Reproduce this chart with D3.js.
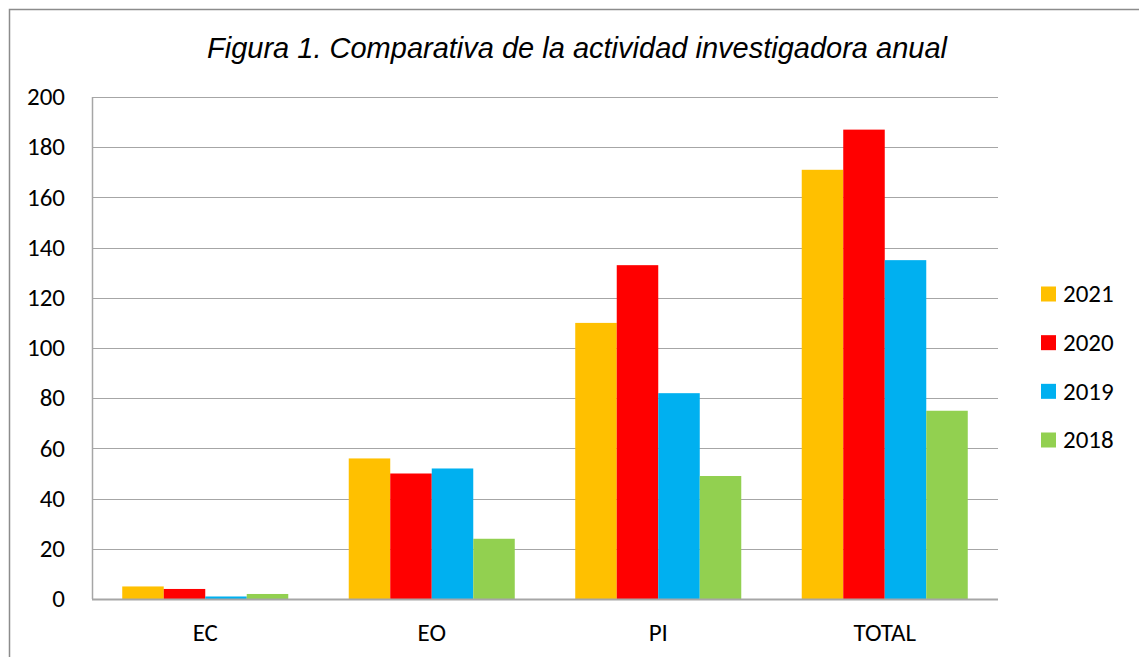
<!DOCTYPE html>
<html>
<head>
<meta charset="utf-8">
<script src="https://cdn.jsdelivr.net/npm/d3@7"></script>
<style>
  body { margin: 0; background: #fff; }
  .tick-label { font-family: Carlito, Lato, "Open Sans", sans-serif; font-size: 25px; fill: #000; }
  .title { font-family: "Liberation Sans", Arial, sans-serif; font-style: italic; font-size: 29px; fill: #000; }
</style>
</head>
<body>
<div id="wrapper"></div>
<script>
const categories = ["EC", "EO", "PI", "TOTAL"]
const years = ["2021", "2020", "2019", "2018"]
const values2021 = [5, 56, 110, 171]
const values2020 = [4, 50, 133, 187]
const values2019 = [1, 52, 82, 135]
const values2018 = [2, 24, 49, 75]
const yTicks = [0, 20, 40, 60, 80, 100, 120, 140, 160, 180, 200]
const colors = ["#FFC000", "#FF0000", "#00B0F0", "#92D050"]

const seriesValues = [values2021, values2020, values2019, values2018]

function drawChart() {
  const dimensions = {
    width: 1139,
    height: 657,
    margin: { top: 97, right: 141, bottom: 58, left: 92 },
  }
  dimensions.boundedWidth = dimensions.width - dimensions.margin.left - dimensions.margin.right
  dimensions.boundedHeight = dimensions.height - dimensions.margin.top - dimensions.margin.bottom

  const wrapper = d3.select("#wrapper")
    .append("svg")
      .attr("width", dimensions.width)
      .attr("height", dimensions.height)

  // outer frame
  wrapper.append("rect")
    .attr("x", 9.5)
    .attr("y", 9.5)
    .attr("width", 1300)
    .attr("height", 800)
    .attr("fill", "none")
    .attr("stroke", "#8c8c8c")
    .attr("stroke-width", 1.5)

  wrapper.append("text")
    .attr("class", "title")
    .attr("x", 577)
    .attr("y", 58)
    .attr("text-anchor", "middle")
    .text("Figura 1. Comparativa de la actividad investigadora anual")

  const bounds = wrapper.append("g")
    .attr("transform", `translate(${dimensions.margin.left}, ${dimensions.margin.top})`)

  const x0 = d3.scaleBand()
    .domain(categories)
    .range([0, dimensions.boundedWidth])
    .paddingInner(0.267)
    .paddingOuter(0.1335)

  const x1 = d3.scaleBand()
    .domain(years)
    .range([0, x0.bandwidth()])

  const y = d3.scaleLinear()
    .domain([0, 200])
    .range([dimensions.boundedHeight, 0])

  // gridlines
  bounds.append("g")
    .selectAll("line")
    .data(yTicks)
    .join("line")
      .attr("x1", 0)
      .attr("x2", dimensions.boundedWidth)
      .attr("y1", d => Math.round(y(d)) + 0.5)
      .attr("y2", d => Math.round(y(d)) + 0.5)
      .attr("stroke", "#a6a6a6")
      .attr("stroke-width", 1.2)

  // y labels
  bounds.append("g")
    .selectAll("text")
    .data(yTicks)
    .join("text")
      .attr("class", "tick-label")
      .attr("x", -27)
      .attr("y", d => y(d))
      .attr("dy", "0.33em")
      .attr("text-anchor", "end")
      .text(d => d)

  // bars
  const groups = bounds.append("g")
    .selectAll("g")
    .data(categories)
    .join("g")
      .attr("transform", d => `translate(${x0(d)}, 0)`)

  groups.selectAll("rect")
    .data((c, i) => years.map((yr, j) => ({ year: yr, value: seriesValues[j][i], color: colors[j] })))
    .join("rect")
      .attr("x", d => x1(d.year))
      .attr("y", d => y(d.value))
      .attr("width", x1.bandwidth())
      .attr("height", d => y(0) - y(d.value))
      .attr("fill", d => d.color)

  // axis lines
  bounds.append("line")
    .attr("x1", 0.5).attr("x2", 0.5)
    .attr("y1", 0).attr("y2", dimensions.boundedHeight)
    .attr("stroke", "#a6a6a6")
    .attr("stroke-width", 1.5)
  bounds.append("line")
    .attr("x1", 0).attr("x2", dimensions.boundedWidth)
    .attr("y1", dimensions.boundedHeight + 0.5).attr("y2", dimensions.boundedHeight + 0.5)
    .attr("stroke", "#a6a6a6")
    .attr("stroke-width", 2)

  // x labels
  bounds.append("g")
    .selectAll("text")
    .data(categories)
    .join("text")
      .attr("class", "tick-label")
      .attr("x", d => x0(d) + x0.bandwidth() / 2)
      .attr("y", dimensions.boundedHeight + 34)
      .attr("dy", "0.33em")
      .attr("text-anchor", "middle")
      .text(d => d)

  // legend
  const legendY = d3.scalePoint()
    .domain(years)
    .range([294, 440])

  const legend = wrapper.append("g")
    .selectAll("g")
    .data(years)
    .join("g")
      .attr("transform", d => `translate(1041, ${legendY(d)})`)

  legend.append("rect")
    .attr("x", 0)
    .attr("y", -7.5)
    .attr("width", 15)
    .attr("height", 15)
    .attr("fill", (d, i) => colors[i])

  legend.append("text")
    .attr("class", "tick-label")
    .attr("x", 22)
    .attr("y", 0)
    .attr("dy", "0.33em")
    .text(d => d)
}
drawChart()
</script>
</body>
</html>
